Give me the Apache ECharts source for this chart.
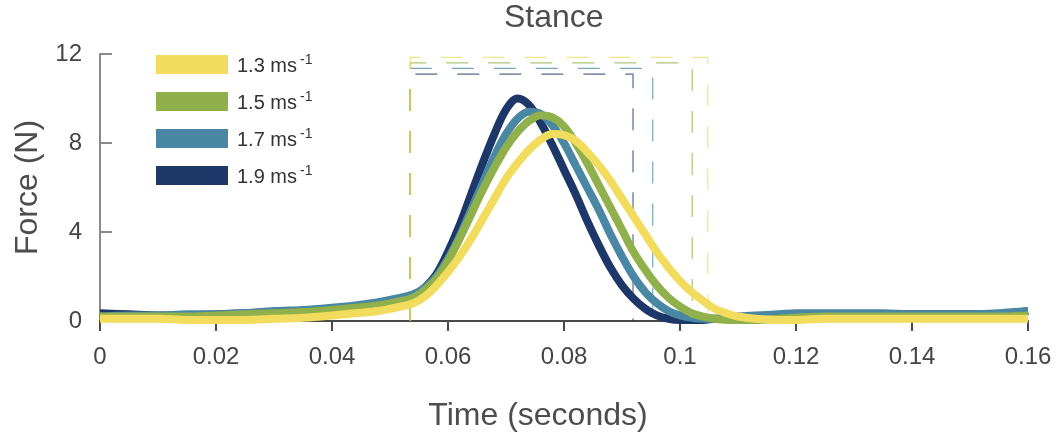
<!DOCTYPE html>
<html>
<head>
<meta charset="utf-8">
<script src="https://cdn.jsdelivr.net/npm/echarts@6/dist/echarts.min.js"></script>
<style>
  html, body { margin: 0; padding: 0; background: #ffffff; }
  #chart { width: 1062px; height: 438px; }
</style>
</head>
<body>
<div id="chart"></div>
<script>
// Sample times (s) shared by every speed trace
const timeS = [
  0, 0.005, 0.01, 0.015, 0.02, 0.025, 0.03, 0.035, 0.04, 0.044, 0.048, 0.051,
  0.054, 0.056, 0.058, 0.060, 0.062, 0.064, 0.066, 0.068, 0.070, 0.072, 0.074,
  0.076, 0.078, 0.080, 0.082, 0.084, 0.086, 0.088, 0.090, 0.092, 0.094, 0.096,
  0.098, 0.100, 0.102, 0.104, 0.106, 0.108, 0.110, 0.113, 0.117, 0.12, 0.125,
  0.13, 0.135, 0.14, 0.145, 0.15, 0.155, 0.16
];

// Vertical force (N) for each running speed
const force13 = [
  0.1, 0.1, 0.1, 0.05, 0.05, 0.05, 0.1, 0.15, 0.25, 0.35, 0.45, 0.6,
  0.8, 1.1, 1.6, 2.2, 2.9, 3.7, 4.6, 5.5, 6.4, 7.1, 7.7,
  8.15, 8.4, 8.35, 8.1, 7.6, 7.0, 6.3, 5.5, 4.7, 3.9, 3.1,
  2.4, 1.8, 1.3, 0.9, 0.55, 0.35, 0.2, 0.1, 0.05, 0.05, 0.1,
  0.1, 0.1, 0.1, 0.1, 0.1, 0.1, 0.1
];
const force15 = [
  0.2, 0.2, 0.2, 0.2, 0.25, 0.3, 0.35, 0.4, 0.5, 0.6, 0.7, 0.85,
  1.05, 1.4, 1.9, 2.7, 3.7, 4.8, 5.9, 6.9, 7.8, 8.5, 9.0,
  9.25, 9.15, 8.75, 8.0, 7.1, 6.1, 5.1, 4.1, 3.1, 2.3, 1.6,
  1.05, 0.65, 0.35, 0.2, 0.1, 0.05, 0.05, 0.05, 0.1, 0.15, 0.2,
  0.2, 0.2, 0.2, 0.2, 0.2, 0.2, 0.25
];
const force17 = [
  0.2, 0.25, 0.25, 0.3, 0.3, 0.35, 0.45, 0.5, 0.6, 0.7, 0.85, 1.0,
  1.2, 1.5, 2.0, 2.8, 3.8, 5.0, 6.2, 7.4, 8.4, 9.1, 9.4,
  9.3, 8.8, 8.0, 7.0, 6.0, 5.0, 3.9, 2.9, 2.0, 1.3, 0.8,
  0.45, 0.25, 0.15, 0.1, 0.1, 0.15, 0.2, 0.25, 0.3, 0.35, 0.35,
  0.35, 0.35, 0.3, 0.3, 0.3, 0.35, 0.45
];
const force19 = [
  0.35, 0.3, 0.25, 0.25, 0.3, 0.35, 0.4, 0.45, 0.55, 0.65, 0.75, 0.9,
  1.1, 1.5, 2.1, 3.1, 4.3, 5.7, 7.1, 8.4, 9.5, 10.0, 9.7,
  8.9, 7.9, 6.8, 5.7, 4.5, 3.4, 2.4, 1.6, 1.0, 0.55, 0.25,
  0.1, 0.05, 0.05, 0.05, 0.1, 0.1, 0.15, 0.2, 0.25, 0.3, 0.3,
  0.3, 0.3, 0.3, 0.3, 0.3, 0.3, 0.45
];

// Speed labels, in legend order
const speedLabels = ['1.3', '1.5', '1.7', '1.9'];
const speedColors = ['#f2dc5d', '#8fb04b', '#4a87a4', '#1d3868'];

// Stance window per speed: start (s), end (s), height of the dashed frame (N)
const stanceStart = [0.0535, 0.0535, 0.0535, 0.0535];
const stanceEnd = [0.1048, 0.1021, 0.0953, 0.0919];
const stanceTop = [11.85, 11.6, 11.35, 11.1];

// Axis ticks
const xTicks = [0, 0.02, 0.04, 0.06, 0.08, 0.1, 0.12, 0.14, 0.16];
const yTicks = [0, 4, 8, 12];

const forces = [force13, force15, force17, force19];
const unit = ' ms\u207B\u00B9';
const FONT = 'Liberation Sans, Arial, sans-serif';

const pair = (ys) => timeS.map((t, i) => [t, ys[i]]);

// Dashed stance frames drawn first, fastest speed lowest
const frameSeries = [3, 2, 1, 0].map((k) => ({
  type: 'line',
  name: 'frame' + speedLabels[k],
  data: [
    [stanceStart[k], 0],
    [stanceStart[k], stanceTop[k]],
    [stanceEnd[k], stanceTop[k]],
    [stanceEnd[k], 0]
  ],
  symbol: 'none',
  silent: true,
  z: 1,
  lineStyle: { color: speedColors[k], width: 1.2, type: [22, 20], opacity: 0.75 },
  itemStyle: { color: speedColors[k] }
}));

// Force traces: 1.9 at the bottom, 1.3 on top
const traceSeries = [3, 2, 1, 0].map((k) => ({
  type: 'line',
  name: speedLabels[k] + unit,
  data: pair(forces[k]),
  symbol: 'none',
  smooth: 0.35,
  z: 3,
  lineStyle: { color: speedColors[k], width: 8, cap: 'butt', join: 'round' },
  itemStyle: { color: speedColors[k] }
}));

const chart = echarts.init(document.getElementById('chart'), null, { renderer: 'canvas' });

chart.setOption({
  animation: false,
  backgroundColor: '#ffffff',
  title: {
    text: 'Stance',
    left: 504,
    top: 2,
    padding: 0,
    textStyle: { fontFamily: FONT, fontSize: 32, fontWeight: 'normal', color: '#4d4d4d' }
  },
  grid: { left: 100, right: 34, top: 54, bottom: 117, containLabel: false },
  legend: {
    data: speedLabels.map((s) => s + unit),
    orient: 'vertical',
    left: 156,
    top: 53,
    padding: 0,
    icon: 'rect',
    itemWidth: 72,
    itemHeight: 19,
    itemGap: 14,
    selectedMode: false,
    formatter: (name) => '{n|' + name.replace('\u207B\u00B9', '') + '}{s|-1}',
    textStyle: {
      fontFamily: FONT,
      color: '#333333',
      padding: [0, 0, 0, 4],
      rich: {
        n: { fontFamily: FONT, fontSize: 20, color: '#333333', lineHeight: 23, verticalAlign: 'bottom' },
        s: { fontFamily: FONT, fontSize: 14, color: '#333333', lineHeight: 23, verticalAlign: 'top', padding: [0, 0, 0, 3] }
      }
    }
  },
  xAxis: {
    type: 'value',
    min: xTicks[0],
    max: xTicks[xTicks.length - 1],
    interval: xTicks[1] - xTicks[0],
    name: 'Time (seconds)',
    nameLocation: 'middle',
    nameGap: 79,
    nameTextStyle: { fontFamily: FONT, fontSize: 32, color: '#4d4d4d', padding: [0, 52, 0, 0] },
    splitLine: { show: false },
    axisLine: { show: true, onZero: true, lineStyle: { color: '#4a4a4a', width: 2 } },
    axisTick: { show: true, inside: false, length: 10, lineStyle: { color: '#4a4a4a', width: 2 } },
    axisLabel: {
      fontFamily: FONT,
      fontSize: 24,
      color: '#444444',
      margin: 24,
      formatter: (v) => String(+v.toFixed(2))
    }
  },
  yAxis: {
    type: 'value',
    min: yTicks[0],
    max: yTicks[yTicks.length - 1],
    interval: yTicks[1] - yTicks[0],
    name: 'Force (N)',
    nameLocation: 'middle',
    nameGap: 56,
    nameTextStyle: { fontFamily: FONT, fontSize: 32, color: '#4d4d4d' },
    splitLine: { show: false },
    axisLine: { show: true, lineStyle: { color: '#8a8a8a', width: 2 } },
    axisTick: { show: true, inside: true, length: 12, lineStyle: { color: '#8a8a8a', width: 2 } },
    axisLabel: { fontFamily: FONT, fontSize: 24, color: '#444444', margin: 18 }
  },
  series: frameSeries.concat(traceSeries)
});
</script>
</body>
</html>
